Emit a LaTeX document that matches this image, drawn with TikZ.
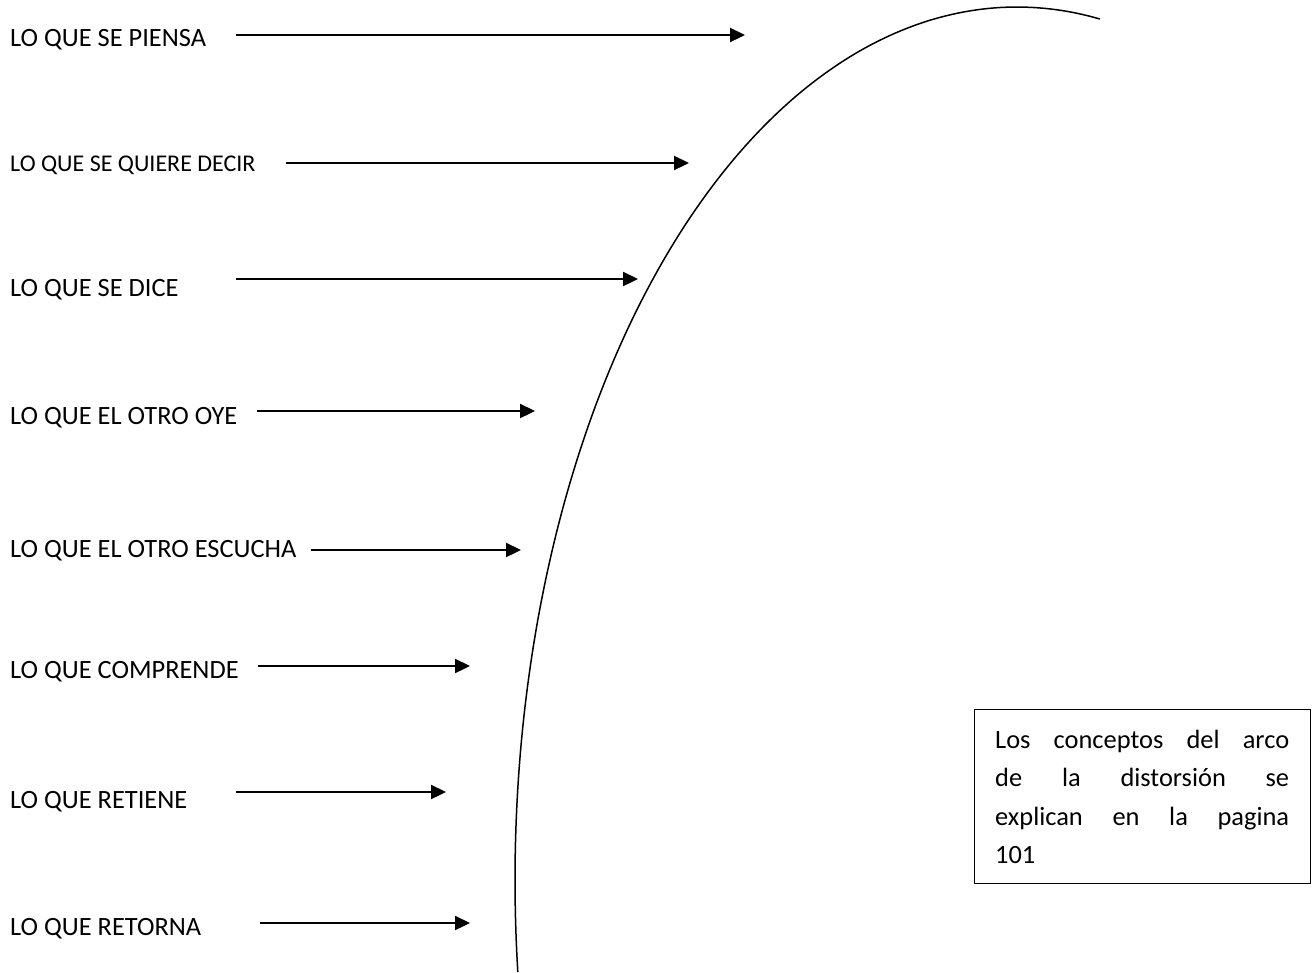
\documentclass[tikz,border=0pt]{standalone}
\usepackage{fontspec}
\setmainfont{Carlito}
\usetikzlibrary{arrows.meta}

\tikzset{
  label/.style={anchor=base west, inner sep=0pt, font=\fontsize{26.4}{30}\selectfont},
  smalllabel/.style={label, font=\fontsize{24}{28}\selectfont},
  arr/.style={line width=2.3pt, -{Triangle[length=15pt,width=14pt]}},
  arc line/.style={line width=1.5pt},
  notebox/.style={draw, line width=1.3pt, minimum width=336pt, minimum height=174pt, anchor=north west, inner sep=0pt},
  notetext/.style={anchor=north west, inner sep=0pt, text width=294pt, align=left,
    font=\fontsize{26.4}{38.5}\selectfont},
}
% one full-width justified line of the note
\newcommand{\justline}[1]{\hbox to \hsize{#1}}

\begin{document}
\begin{tikzpicture}[x=1pt, y=-1pt]
\useasboundingbox (0,0) rectangle (1312,972);

% labels on the left
\node[label]      (l1) at (10,46)  {LO QUE SE PIENSA};
\node[smalllabel] (l2) at (10,171) {LO QUE SE QUIERE DECIR};
\node[label]      (l3) at (10,296) {LO QUE SE DICE};
\node[label]      (l4) at (10,424) {LO QUE EL OTRO OYE};
\node[label]      (l5) at (10,557) {LO QUE EL OTRO ESCUCHA};
\node[label]      (l6) at (10,678) {LO QUE COMPRENDE};
\node[label]      (l7) at (10,808) {LO QUE RETIENE};
\node[label]      (l8) at (10,935) {LO QUE RETORNA};

% arrow end points
\coordinate (s1) at (236,35);  \coordinate (e1) at (745,35);
\coordinate (s2) at (286,163); \coordinate (e2) at (689,163);
\coordinate (s3) at (236,279); \coordinate (e3) at (638,279);
\coordinate (s4) at (257,411); \coordinate (e4) at (535,411);
\coordinate (s5) at (311,550); \coordinate (e5) at (521,550);
\coordinate (s6) at (258,666); \coordinate (e6) at (470,666);
\coordinate (s7) at (236,792); \coordinate (e7) at (446,792);
\coordinate (s8) at (260,923); \coordinate (e8) at (470,923);

\foreach \i in {1,...,8} {\draw[arr] (s\i) -- (e\i);}

% arc of distortion (part of an ellipse)
\draw[arc line] plot[smooth, domain=80.5:186.05, samples=120]
  ({1017+502*cos(\x)}, {880-873*sin(\x)});

% note box
\node[notebox] (box) at (974,709) {};
\node[notetext] (note) at (995,728) {%
  \justline{\rule{0pt}{20pt}Los\hfill conceptos\hfill del\hfill arco}
  \justline{de\hfill la\hfill distorsión\hfill se}
  \justline{explican\hfill en\hfill la\hfill pagina}
  \kern7.5pt
  \hbox{101}};
\end{tikzpicture}
\end{document}
